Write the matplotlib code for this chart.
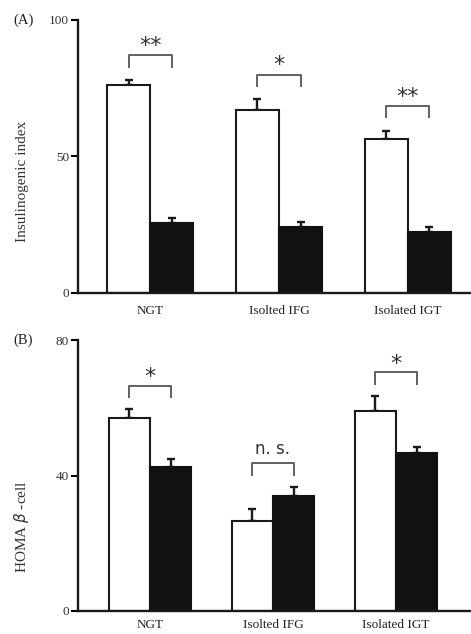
import numpy as np
import matplotlib.pyplot as plt

plt.rcParams["font.family"] = ["Liberation Serif", "DejaVu Serif"]

groups = ["NGT", "Isolted IFG", "Isolated IGT"]

# panel A: insulinogenic index
ins_white = [76, 67, 56.5]
ins_white_err = [2, 4, 3]
ins_black = [25.5, 24, 22.5]
ins_black_err = [2, 2, 1.5]
ins_sig = ["**", "*", "**"]

# panel B: HOMA beta-cell
homa_white = [57, 26.5, 59]
homa_white_err = [2.5, 3.5, 4.5]
homa_black = [42.5, 34, 46.5]
homa_black_err = [2.5, 2.7, 2]
homa_sig = ["*", "n. s.", "*"]

fig = plt.figure(figsize=(4.71, 6.34), dpi=100)
axA = fig.add_axes([0.1656, 0.5379, 0.8344, 0.4306])
axB = fig.add_axes([0.1656, 0.0363, 0.8344, 0.4274])

w = 0.335


def draw(ax, white, werr, black, berr, sig, ymax, yticks, xlim, lift):
    x = np.arange(len(groups))
    ax.bar(x - w / 2, white, w, color="white", edgecolor="#1a1a1a", linewidth=1.5, zorder=2)
    ax.bar(x + w / 2, black, w, color="#111111", edgecolor="#111111", linewidth=1.5, zorder=2)
    ekw = dict(fmt="none", ecolor="#1a1a1a", elinewidth=1.7, capsize=3, capthick=1.7, zorder=1)
    ax.errorbar(x - w / 2, white, yerr=[np.zeros(3), werr], **ekw)
    ax.errorbar(x + w / 2, black, yerr=[np.zeros(3), berr], **ekw)
    for i in range(len(groups)):
        top = max(white[i] + werr[i], black[i] + berr[i]) + lift[0]
        ax.plot([x[i] - w / 2, x[i] - w / 2, x[i] + w / 2, x[i] + w / 2],
                [top, top + lift[1], top + lift[1], top],
                color="#555555", lw=1.3, solid_capstyle="butt")
        if sig[i] == "n. s.":
            ax.text(x[i], top + lift[1] + lift[2] * 0.5, sig[i], ha="center", va="bottom",
                    fontsize=12, family="DejaVu Sans", color="#333333")
        else:
            ax.text(x[i], top + lift[1] + lift[2] * 0.85, sig[i], ha="center", va="center",
                    fontsize=16, family="DejaVu Sans", color="#333333")
    ax.set_ylim(0, ymax)
    ax.set_xlim(*xlim)
    ax.set_yticks(yticks)
    ax.set_xticks(x)
    ax.set_xticklabels(groups, fontsize=9.5, color="#222222")
    ax.tick_params(axis="x", length=0, pad=9)
    ax.tick_params(axis="y", direction="out", length=5, width=1.5, labelsize=9.5, pad=1.5,
                   labelcolor="#333333")
    for s in ["top", "right"]:
        ax.spines[s].set_visible(False)
    for s in ["left", "bottom"]:
        ax.spines[s].set_linewidth(1.7)
        ax.spines[s].set_color("#1a1a1a")


draw(axA, ins_white, ins_white_err, ins_black, ins_black_err, ins_sig,
     100, [0, 50, 100], (-0.56, 2.49), (4.5, 4.5, 4))
axA.set_ylabel("Insulinogenic index", fontsize=11, color="#333333")
axA.yaxis.set_label_coords(-0.125, 0.41)

draw(axB, homa_white, homa_white_err, homa_black, homa_black_err, homa_sig,
     80, [0, 40, 80], (-0.585, 2.61), (3.3, 3.7, 3))
axB.set_ylabel("HOMA $\\beta$ -cell", fontsize=11, color="#333333")
axB.yaxis.set_label_coords(-0.12, 0.31)
axB.tick_params(axis="x", pad=6)

fig.text(0.028, 0.968, "(A)", fontsize=10.5, va="center", color="#222222")
fig.text(0.028, 0.463, "(B)", fontsize=10.5, va="center", color="#222222")

fig.savefig("out.png", dpi=100)
